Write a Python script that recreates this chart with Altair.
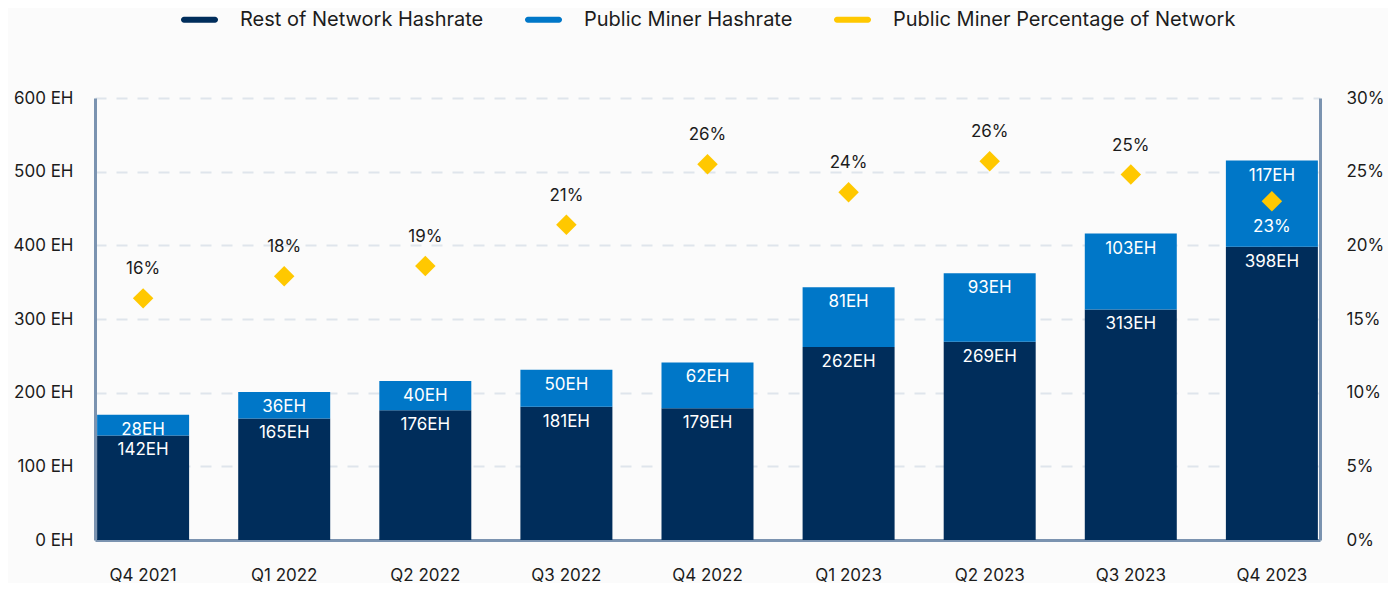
import altair as alt
import pandas as pd

quarters = ["Q4 2021", "Q1 2022", "Q2 2022", "Q3 2022", "Q4 2022",
            "Q1 2023", "Q2 2023", "Q3 2023", "Q4 2023"]
rest_hash = [142, 165, 176, 181, 179, 262, 269, 313, 398]
public_hash = [28, 36, 40, 50, 62, 81, 93, 103, 117]
public_pct = [16.4, 17.9, 18.6, 21.4, 25.5, 23.6, 25.7, 24.8, 23.0]
series_names = ["Rest of Network Hashrate", "Public Miner Hashrate",
                "Public Miner Percentage of Network"]
series_colors = ["#002d5b", "#0077c8", "#ffc800"]
left_ticks = [0, 100, 200, 300, 400, 500, 600]
right_ticks = [0, 5, 10, 15, 20, 25, 30]

FONT = "Inter"
TXT = "#1c1c1c"
PILL = ("M-0.838,-0.162 H0.838 A0.162,0.162 0 0 1 0.838,0.162 "
        "H-0.838 A0.162,0.162 0 0 1 -0.838,-0.162 Z")

rows = []
for q, r, p in zip(quarters, rest_hash, public_hash):
    rows.append({"quarter": q, "series": series_names[0], "v": r, "y0": 0, "y1": r})
    rows.append({"quarter": q, "series": series_names[1], "v": p, "y0": r, "y1": r + p})
bars_df = pd.DataFrame(rows)
pct_df = pd.DataFrame({"quarter": quarters, "pct": public_pct})

x_enc = alt.X("quarter:N", sort=quarters, title=None,
              scale=alt.Scale(paddingInner=0.348, paddingOuter=0.015),
              axis=alt.Axis(labelAngle=0, labelPadding=27, labelFontSize=17,
                            domainColor="#7b93b0", domainWidth=3, ticks=False))

y_left = alt.Y("y1:Q", title=None,
               scale=alt.Scale(domain=[0, 600], nice=False),
               axis=alt.Axis(values=left_ticks, labelExpr="datum.value + ' EH'",
                             grid=True, gridDash=[11, 10], gridColor="#dfe5ec",
                             gridWidth=2, labelPadding=22, labelFontSize=17,
                             domainColor="#7b93b0", domainWidth=3, ticks=False))

base = alt.Chart(bars_df)
bars = base.mark_bar().encode(
    x=x_enc,
    y=y_left,
    y2="y0:Q",
    color=alt.Color("series:N",
                    scale=alt.Scale(domain=series_names, range=series_colors),
                    legend=alt.Legend(title=None, orient="none", direction="horizontal",
                                      legendX=86, legendY=-97, padding=0,
                                      symbolType=PILL, symbolSize=1369,
                                      symbolStrokeWidth=0, labelFontSize=20,
                                      labelFont=FONT, labelColor=TXT,
                                      labelOffset=22, columnPadding=41,
                                      labelLimit=400)),
)
bar_labels = base.mark_text(dy=15, baseline="middle", color="white",
                            fontSize=17, font=FONT).encode(
    x=alt.X("quarter:N", sort=quarters),
    y="y1:Q",
    text="lbl:N",
).transform_calculate(lbl="datum.v + 'EH'")

left = alt.layer(bars, bar_labels)

y_right = alt.Y("pct:Q", title=None,
                scale=alt.Scale(domain=[0, 30], nice=False),
                axis=alt.Axis(orient="right", values=right_ticks,
                              labelExpr="datum.value + '%'", grid=False,
                              labelPadding=26, labelFontSize=17,
                              domainColor="#7b93b0", domainWidth=3, ticks=False))

pbase = alt.Chart(pct_df)
diamonds = pbase.mark_point(shape="diamond", filled=True, size=420,
                            color="#ffc800", opacity=1).encode(
    x=alt.X("quarter:N", sort=quarters),
    y=y_right,
)
pct_above = pbase.mark_text(dy=-29, baseline="middle", color=TXT,
                            fontSize=17, font=FONT).encode(
    x=alt.X("quarter:N", sort=quarters),
    y="pct:Q",
    text="lbl:N",
).transform_filter("datum.quarter != 'Q4 2023'").transform_calculate(
    lbl="format(datum.pct, '.0f') + '%'")
pct_below = pbase.mark_text(dy=26, baseline="middle", color="white",
                            fontSize=17, font=FONT).encode(
    x=alt.X("quarter:N", sort=quarters),
    y="pct:Q",
    text="lbl:N",
).transform_filter("datum.quarter == 'Q4 2023'").transform_calculate(
    lbl="format(datum.pct, '.0f') + '%'")

right = alt.layer(diamonds, pct_above, pct_below)

chart = alt.layer(left, right).resolve_scale(y="independent").properties(
    width=1225, height=442,
    autosize=alt.AutoSizeParams(type="none"),
    padding={"left": 87, "top": 90, "right": 68, "bottom": 43},
    background="#fbfbfb",
).configure_view(stroke=None).configure_axis(
    labelFont=FONT, labelColor=TXT
).configure_text(font=FONT)

chart.save("out.html", embed_options={"renderer": "svg", "actions": False})
